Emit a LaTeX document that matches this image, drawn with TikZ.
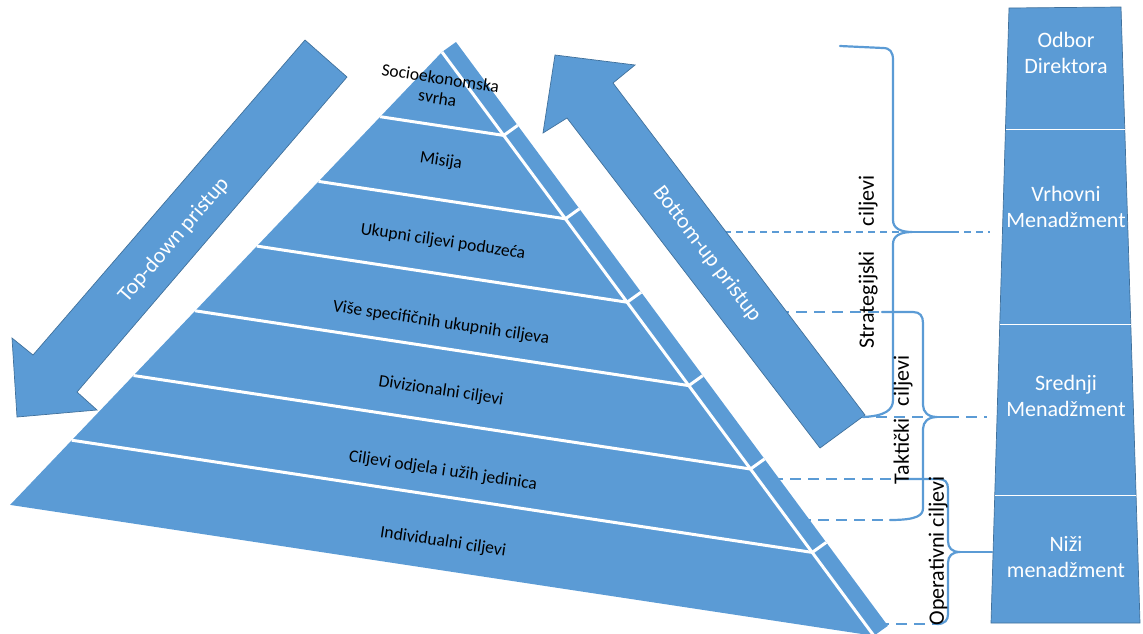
\documentclass[tikz,border=0pt]{standalone}
\usepackage{fontspec}
\setmainfont{Carlito}
\definecolor{plava}{HTML}{5B9BD5}
\definecolor{rub}{HTML}{41719C}
\tikzset{
  razina/.style={font=\fontsize{17.5}{20}\selectfont, rotate=-8.6, align=center, inner sep=0pt},
  bijela/.style={draw=white, line width=3pt},
  strelica/.style={fill=plava, draw=rub, line width=0.7pt},
  bijeli tekst/.style={text=white, font=\fontsize{22}{26}\selectfont, align=center, inner sep=0pt},
  okomit/.style={font=\fontsize{22}{26}\selectfont, rotate=90, inner sep=0pt},
  zagrada/.style={draw=plava, line width=2.2pt, line cap=round},
  crtkano/.style={draw=plava, line width=2.5pt, dash pattern=on 11pt off 7pt},
  crtkano tanko/.style={draw=plava, line width=1.5pt, dash pattern=on 7pt off 5pt},
}

\begin{document}
\begin{tikzpicture}[x=1pt,y=-1pt]
	\useasboundingbox (0,0) rectangle (1143,633);

	% dashed connectors (drawn first, the shapes cover their starts)
	\coordinate (s1) at (700,232); \coordinate (e1) at (990,232);
	\coordinate (s2) at (760,312); \coordinate (e2) at (882,312);
	\coordinate (s3) at (858,417); \coordinate (e3) at (987,417);
	\coordinate (s4) at (772,479); \coordinate (e4) at (900,479);
	\coordinate (s5) at (800,520); \coordinate (e5) at (890,520);
	\coordinate (s6) at (878,624); \coordinate (e6) at (937,624);
	\draw[crtkano tanko] (s1) -- (e1);
	\draw[crtkano] (s2) -- (e2);
	\draw[crtkano] (s3) -- (e3);
	\draw[crtkano] (s4) -- (e4);
	\draw[crtkano] (s5) -- (e5);
	\draw[crtkano] (s6) -- (e6);

	% pyramid
	\fill[plava] (442,52) -- (456,42)
		-- ({456+7*61.7},{42+7*83.4})
		-- ({442+7*61.7},{52+7*83.4})
		-- ({442-7*61.7},{52+7*64.7}) -- cycle;
	\draw[bijela] (442,52) -- ({442+7*61.7},{52+7*83.4});
	\foreach \k in {1,...,6}{
		\draw[bijela] ({442-61.7*\k},{52+64.7*\k})
			-- ({442+61.7*\k},{52+83.4*\k})
			-- ({456+61.7*\k},{42+83.4*\k});
	}

	\node[razina] (socio) at (439,88) {Socioekonomska\\svrha};
	\node[razina] (misija) at (441,161) {Misija};
	\node[razina] (ukupni) at (443,242) {Ukupni ciljevi poduzeća};
	\node[razina] (vise) at (441,323) {Više specifičnih ukupnih ciljeva};
	\node[razina] (diviz) at (441,391) {Divizionalni ciljevi};
	\node[razina] (odjel) at (443,471) {Ciljevi odjela i užih jedinica};
	\node[razina] (indiv) at (443,542) {Individualni ciljevi};

	% arrows
	\draw[strelica] (305,40) -- (347,77) -- (77,392) -- (97,410)
		-- (17,417) -- (12,338) -- (33,355) -- cycle;
	\node[bijeli tekst, rotate=49.2] (topdown) at (174,240) {Top-down pristup};

	\draw[strelica] (555,55) -- (635,65) -- (613,83) -- (865,415)
		-- (820,448) -- (567,118) -- (543,133) -- cycle;
	\node[bijeli tekst, rotate=-52.7] (bottomup) at (707,254) {Bottom-up pristup};

	% braces
	\draw[zagrada] (840,46) -- (883,48) .. controls (890,48) and (893,52) .. (893,60)
		-- (893,220) .. controls (893,228) and (900,232) .. (912,232)
		.. controls (900,232) and (893,236) .. (893,244)
		-- (893,400) .. controls (893,410) and (885,416) .. (863,417);
	\draw[zagrada] (912,232) -- (957,232);

	\draw[zagrada] (882,312) -- (913,312) .. controls (920,312) and (923,316) .. (923,323)
		-- (923,405) .. controls (923,412) and (928,417) .. (937,417)
		.. controls (928,417) and (923,422) .. (923,429)
		-- (923,508) .. controls (923,515) and (918,520) .. (890,520);
	\draw[zagrada] (937,417) -- (955,417);

	\draw[zagrada] (897,479) -- (938,479) .. controls (945,479) and (948,482) .. (948,489)
		-- (948,541) .. controls (948,548) and (952,552) .. (960,552)
		.. controls (952,552) and (948,556) .. (948,563)
		-- (948,614) .. controls (948,620) and (945,624) .. (937,624);
	\draw[zagrada] (960,552) -- (992,552);

	\node[okomit] (strat) at (868,262) {Strategijski\hspace{25pt}ciljevi};
	\node[okomit] (takt) at (903,420) {Taktički\hspace{12pt}ciljevi};
	\node[okomit] (oper) at (938,551) {Operativni ciljevi};

	% management column
	\draw[fill=plava, draw=rub, line width=0.7pt] (1009,8) -- (1121,7) -- (1140,623) -- (991,623) -- cycle;
	\draw[white, line width=1pt] (1005.5,129) -- (1124.7,129);
	\draw[white, line width=1pt] (999.8,324) -- (1130.8,324);
	\draw[white, line width=1pt] (994.8,495) -- (1136,495);

	\node[bijeli tekst] (odbor) at (1066,53) {Odbor\\Direktora};
	\node[bijeli tekst] (vrhovni) at (1066,207) {Vrhovni\\Menadžment};
	\node[bijeli tekst] (srednji) at (1066,396) {Srednji\\Menadžment};
	\node[bijeli tekst] (nizi) at (1066,557) {Niži\\menadžment};
\end{tikzpicture}
\end{document}
